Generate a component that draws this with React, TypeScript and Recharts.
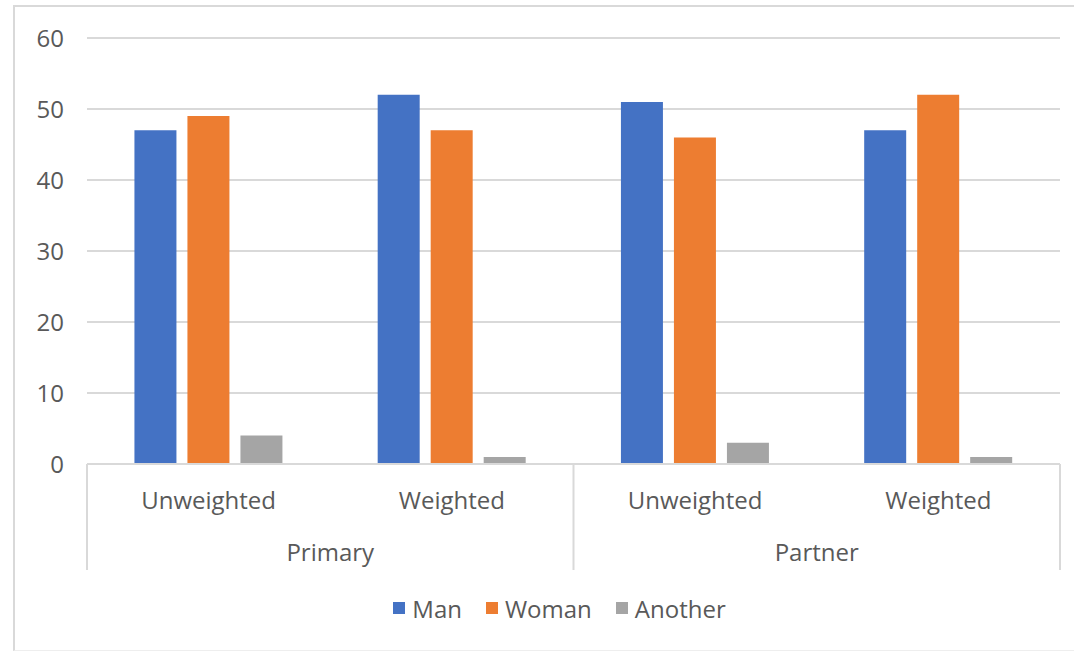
import { BarChart, Bar, XAxis, YAxis, CartesianGrid, Legend } from 'recharts';

const subCategories = ['Unweighted', 'Weighted', 'Unweighted', 'Weighted'];
const groups = ['Primary', 'Primary', 'Partner', 'Partner'];
const manValues = [47, 52, 51, 47];
const womanValues = [49, 47, 46, 52];
const anotherValues = [4, 1, 3, 1];
const yTicks = [0, 10, 20, 30, 40, 50, 60];

const series = [
  { key: 'Man', color: '#4472C4' },
  { key: 'Woman', color: '#ED7D31' },
  { key: 'Another', color: '#A5A5A5' },
];

const data = subCategories.map((sub, i) => ({
  sub,
  group: groups[i],
  Man: manValues[i],
  Woman: womanValues[i],
  Another: anotherValues[i],
}));

const W = 1074;
const H = 652;
const MARGIN = { top: 38, right: 14, left: 13, bottom: 26 };
const Y_WIDTH = 74;
const PLOT_LEFT = MARGIN.left + Y_WIDTH;
const PLOT_RIGHT = W - MARGIN.right;
const BAND = (PLOT_RIGHT - PLOT_LEFT) / data.length;
const FONT = '"Open Sans", sans-serif';
const FONT_SIZE = 24;
const TEXT = '#595959';
const LINE = '#D9D9D9';

function SubTick(props: any) {
  const { x, y, payload, index } = props;
  const lines = [];
  if (index === 0 || groups[index] !== groups[index - 1]) {
    lines.push(<line key="l" x1={x - BAND / 2} x2={x - BAND / 2} y1={y} y2={y + 106} stroke={LINE} strokeWidth={2} />);
  }
  if (index === data.length - 1) {
    lines.push(<line key="r" x1={x + BAND / 2} x2={x + BAND / 2} y1={y} y2={y + 106} stroke={LINE} strokeWidth={2} />);
  }
  return (
    <g>
      {lines}
      <text x={x} y={y + 35} textAnchor="middle" dominantBaseline="central" fill={TEXT} fontSize={FONT_SIZE} fontFamily={FONT}>
        {payload.value}
      </text>
    </g>
  );
}

function GroupTick(props: any) {
  const { x, y, payload, index } = props;
  if (index > 0 && groups[index] === groups[index - 1]) return <g />;
  return (
    <text x={x + BAND / 2} y={y + 17} textAnchor="middle" dominantBaseline="central" fill={TEXT} fontSize={FONT_SIZE} fontFamily={FONT}>
      {payload.value}
    </text>
  );
}

function LegendContent() {
  return (
    <div style={{ height: 36, display: 'flex', justifyContent: 'center', alignItems: 'center', paddingLeft: 70, fontFamily: FONT, fontSize: FONT_SIZE, color: TEXT }}>
      {series.map((s) => (
        <div key={s.key} style={{ display: 'flex', alignItems: 'center', marginRight: 24 }}>
          <span style={{ display: 'inline-block', width: 12, height: 12, background: s.color, marginRight: 7 }} />
          <span>{s.key}</span>
        </div>
      ))}
    </div>
  );
}

export default function App() {
  return (
    <div style={{ position: 'relative', width: W, height: H, background: '#fff', overflow: 'hidden' }}>
      <style>{'body{margin:0}'}</style>
      <div
        style={{
          position: 'absolute',
          left: 13,
          top: 5,
          width: 1100,
          height: 646,
          borderLeft: `2px solid ${LINE}`,
          borderTop: `2px solid ${LINE}`,
          borderBottom: '1px solid #EEEEEE',
          boxSizing: 'border-box',
        }}
      />
      <div style={{ position: 'absolute', left: 0, top: 0 }}>
        <BarChart width={W} height={H} data={data} margin={MARGIN} barCategoryGap="19.5%" barGap={11}>
          <CartesianGrid vertical={false} stroke={LINE} strokeWidth={2} />
          <XAxis
            dataKey="sub"
            height={70}
            axisLine={{ stroke: LINE, strokeWidth: 2 }}
            tickLine={false}
            tickSize={0}
            tickMargin={0}
            tick={<SubTick />}
            interval={0}
          />
          <XAxis
            xAxisId="group"
            dataKey="group"
            height={56}
            axisLine={false}
            tickLine={false}
            tickSize={0}
            tickMargin={0}
            tick={<GroupTick />}
            interval={0}
          />
          <YAxis
            width={Y_WIDTH}
            domain={[0, 60]}
            ticks={yTicks}
            axisLine={false}
            tickLine={false}
            tickSize={0}
            tickMargin={23}
            tick={{ fill: TEXT, fontSize: FONT_SIZE, fontFamily: FONT }}
          />
          <Legend verticalAlign="bottom" content={<LegendContent />} />
          {series.map((s) => (
            <Bar key={s.key} dataKey={s.key} fill={s.color} isAnimationActive={false} />
          ))}
        </BarChart>
      </div>
    </div>
  );
}
